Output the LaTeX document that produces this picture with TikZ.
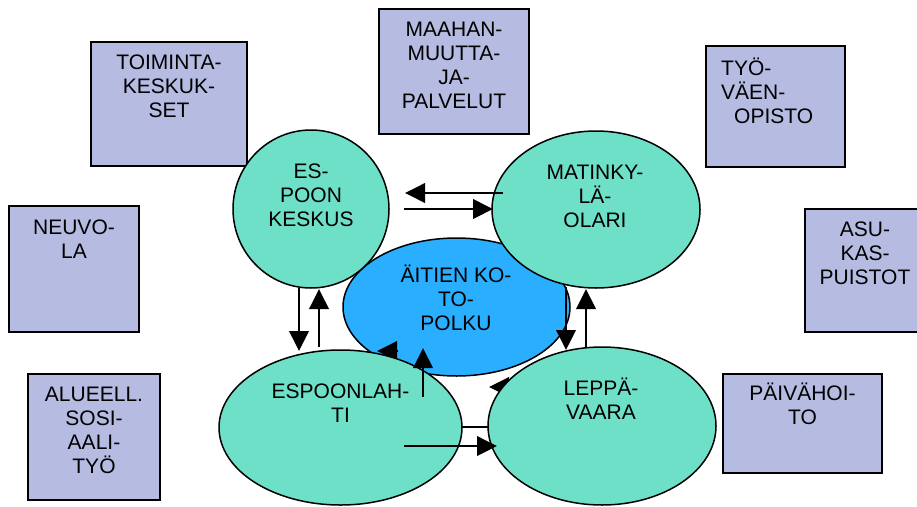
\documentclass[tikz,border=0pt]{standalone}
\usepackage{fontspec}
\setmainfont{Liberation Sans}
\usetikzlibrary{shapes.geometric,arrows.meta}
\definecolor{tealfill}{RGB}{111,224,200}
\definecolor{bluefill}{RGB}{42,174,255}
\definecolor{lavfill}{RGB}{182,187,225}
\begin{document}
\begin{tikzpicture}[x=1pt,y=-1pt,
  box/.style={draw=black,line width=1.5pt,fill=lavfill,rectangle,inner sep=0pt},
  ell/.style={draw=black,line width=1.5pt,fill=tealfill,ellipse,inner sep=0pt},
  lbl/.style={font=\fontsize{21}{24}\selectfont,align=center,inner sep=0pt},
  arr/.style={line width=2pt,-{Triangle[length=20pt,width=19.5pt]}},
  ln/.style={line width=2pt}]
\useasboundingbox (0,0) rectangle (917,506);
% boxes
\node[box,minimum width=156pt,minimum height=124pt] (b1) at (169,104) {};
\node[box,minimum width=150pt,minimum height=125pt] (b2) at (454,71.5) {};
\node[box,minimum width=139pt,minimum height=121pt] (b3) at (775.5,106.5) {};
\node[box,minimum width=130pt,minimum height=126pt] (b4) at (74,269) {};
\node[box,minimum width=132pt,minimum height=126pt] (b5) at (94,437) {};
\node[box,minimum width=120pt,minimum height=123pt] (b6) at (865,270.5) {};
\node[box,minimum width=159pt,minimum height=99pt] (b7) at (802.5,423.5) {};
% centre ellipse
\node[ell,fill=bluefill,minimum width=227pt,minimum height=138pt] (e3) at (456.5,307) {};
% hidden-shaft arrows
\coordinate (h1s) at (398,351); \coordinate (h1e) at (377,351);
\coordinate (h2s) at (520,387); \coordinate (h2e) at (489,387);
\coordinate (l1s) at (450,427); \coordinate (l1e) at (500,427);
\draw[arr] (h1s) -- (h1e);
\draw[arr] (h2s) -- (h2e);
\draw[ln] (l1s) -- (l1e);
% ellipses
\node[ell,minimum width=156pt,minimum height=158pt] (e1) at (311,209) {};
\node[ell,minimum width=208pt,minimum height=157pt] (e2) at (596,209.5) {};
\node[ell,minimum width=243pt,minimum height=155pt] (e4) at (340.5,427.5) {};
\node[ell,minimum width=228pt,minimum height=158pt] (e5) at (602,426) {};
% arrows
\coordinate (a1s) at (503,193); \coordinate (a1e) at (405,193);
\coordinate (a2s) at (404,209); \coordinate (a2e) at (493,209);
\coordinate (a3s) at (299,288); \coordinate (a3e) at (299,351);
\coordinate (a4s) at (319,347); \coordinate (a4e) at (319,289);
\coordinate (a6s) at (423,397); \coordinate (a6e) at (423,348);
\coordinate (a7s) at (566,287); \coordinate (a7e) at (566,350);
\coordinate (a8s) at (586,347); \coordinate (a8e) at (586,289);
\coordinate (a9s) at (404,446); \coordinate (a9e) at (497,446);
\draw[arr] (a1s) -- (a1e);
\draw[arr] (a2s) -- (a2e);
\draw[arr] (a3s) -- (a3e);
\draw[arr] (a4s) -- (a4e);
\draw[arr] (a6s) -- (a6e);
\draw[arr] (a7s) -- (a7e);
\draw[arr] (a8s) -- (a8e);
\draw[arr] (a9s) -- (a9e);
% labels
\node[lbl] (t1) at (169,86) {TOIMINTA-\\KESKUK-\\SET};
\node[lbl] (t2) at (454,65.5) {MAAHAN-\\MUUTTA-\\JA-\\PALVELUT};
\node[lbl,align=left,anchor=west] (t3) at (721,90.5) {TYÖ-\\VÄEN-\\\hspace*{13pt}OPISTO};
\node[lbl] (t4) at (74,239) {NEUVO-\\LA};
\node[lbl] (t5) at (94,430.5) {ALUEELL.\\SOSI-\\AALI-\\TYÖ};
\node[lbl] (t6) at (865,253.5) {ASU-\\KAS-\\PUISTOT};
\node[lbl] (t7) at (802.5,403.5) {PÄIVÄHOI-\\TO};
\node[lbl] (t8) at (311,195.5) {ES-\\POON\\KESKUS};
\node[lbl] (t9) at (595,196) {MATINKY-\\LÄ-\\OLARI};
\node[lbl] (t10) at (456,298) {ÄITIEN KO-\\TO-\\POLKU};
\node[lbl] (t11) at (340.5,403) {ESPOONLAH-\\TI};
\node[lbl] (t12) at (601,398.7) {LEPPÄ-\\VAARA};
\end{tikzpicture}
\end{document}
